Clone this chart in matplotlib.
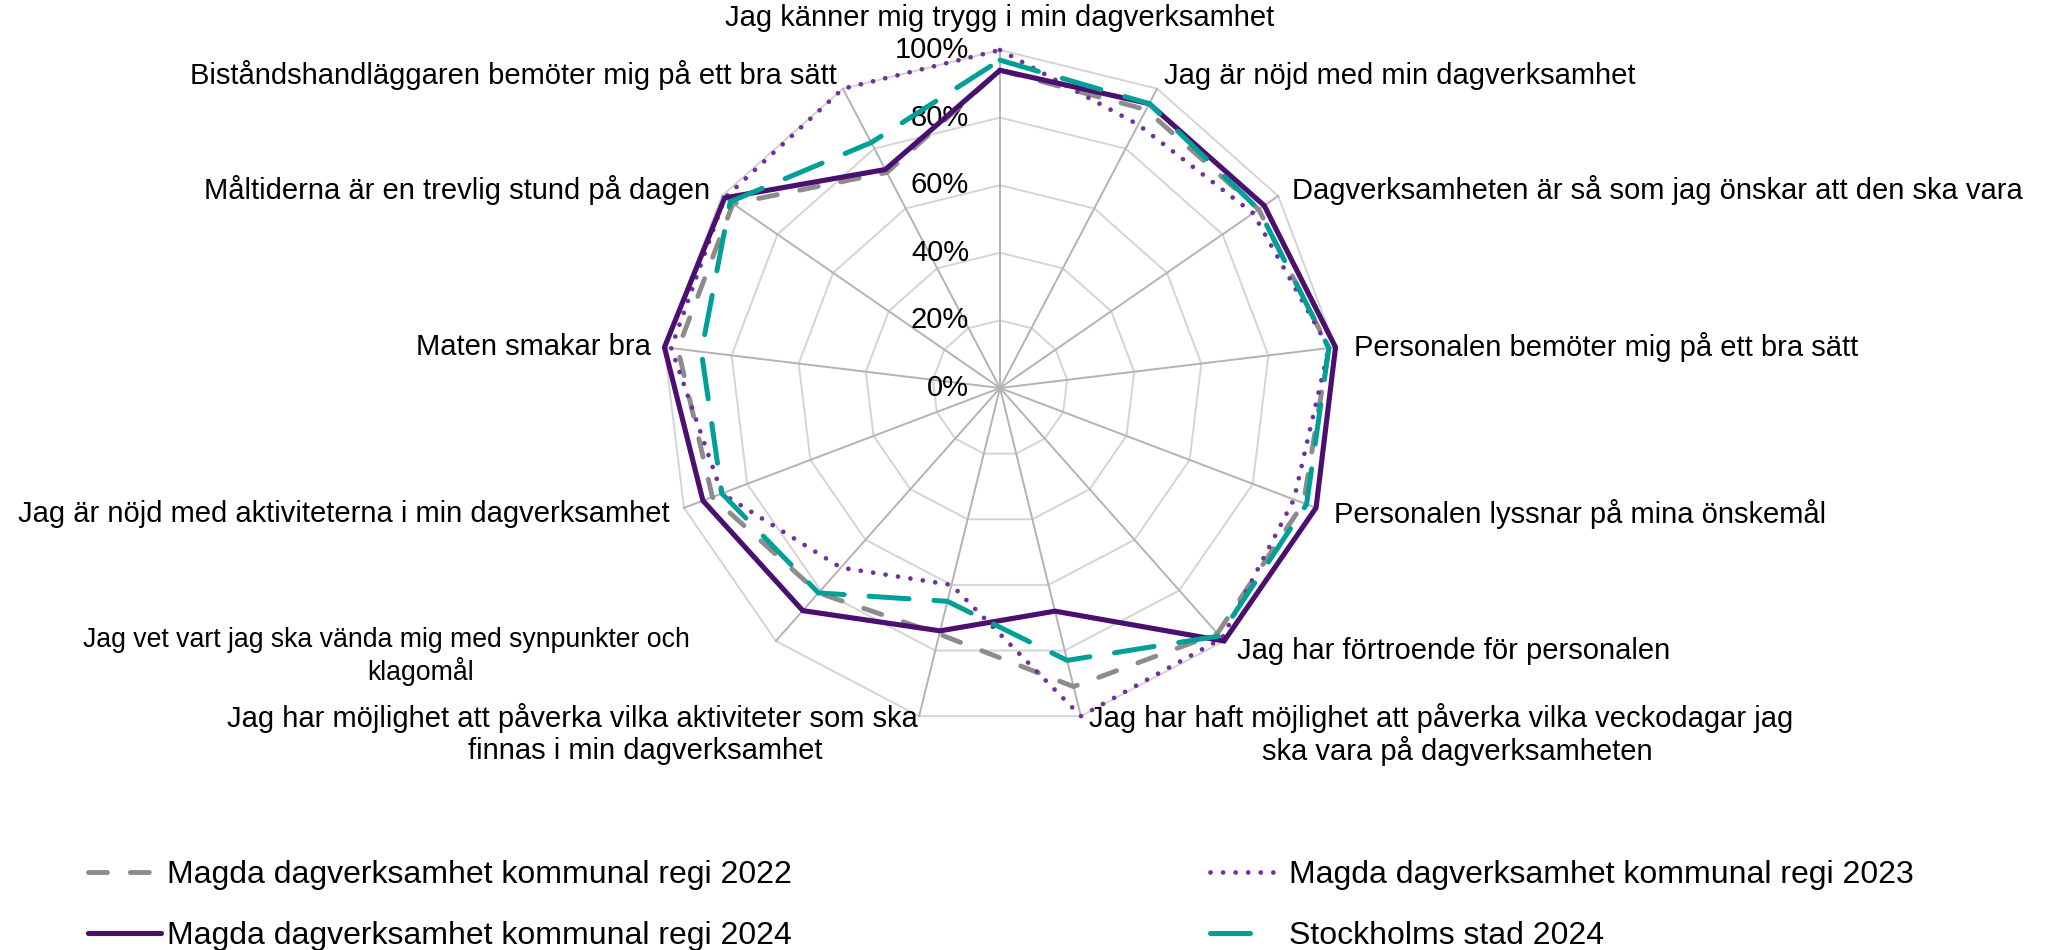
import numpy as np
import matplotlib
matplotlib.use("Agg")
import matplotlib.pyplot as plt
from matplotlib.lines import Line2D

# ---------------- data ----------------
categories = [
    "Jag känner mig trygg i min dagverksamhet",
    "Jag är nöjd med min dagverksamhet",
    "Dagverksamheten är så som jag önskar att den ska vara",
    "Personalen bemöter mig på ett bra sätt",
    "Personalen lyssnar på mina önskemål",
    "Jag har förtroende för personalen",
    "Jag har haft möjlighet att påverka vilka veckodagar jag\nska vara på dagverksamheten",
    "Jag har möjlighet att påverka vilka aktiviteter som ska\nfinnas i min dagverksamhet",
    "Jag vet vart jag ska vända mig med synpunkter och\nklagomål",
    "Jag är nöjd med aktiviteterna i min dagverksamhet",
    "Maten smakar bra",
    "Måltiderna är en trevlig stund på dagen",
    "Biståndshandläggaren bemöter mig på ett bra sätt",
]
series_names = [
    "Magda dagverksamhet kommunal regi 2022",
    "Magda dagverksamhet kommunal regi 2023",
    "Magda dagverksamhet kommunal regi 2024",
    "Stockholms stad 2024",
]
magda_2022 = [94, 93, 93, 98, 96, 97, 91, 75, 81, 91, 96, 96, 72]
magda_2023 = [100, 88, 91, 98, 93, 99, 100, 60, 71, 88, 98, 99, 100]
magda_2024 = [94, 95, 95, 100, 100, 100, 68, 74, 88, 94, 100, 99, 73]
stockholm_2024 = [97, 95, 93, 98, 97, 98, 83, 65, 81, 88, 89, 97, 82]
radial_ticks = [0, 20, 40, 60, 80, 100]
radial_tick_labels = ["0%", "20%", "40%", "60%", "80%", "100%"]

# ---------------- style ----------------
plt.rcParams["font.family"] = ["Liberation Sans", "DejaVu Sans"]
FS = 21
FS_LEG = 23
W, H = 2051, 950
fig = plt.figure(figsize=(W / 100, H / 100), dpi=100)
cx, cy, R = 1000, 388, 338
ax = fig.add_axes([(cx - R) / W, (H - cy - R) / H, 2 * R / W, 2 * R / H],
                  projection="polar")
ax.set_theta_zero_location("N")
ax.set_theta_direction(-1)
ax.set_ylim(0, 100)
ax.axis("off")

N = len(categories)
ang = np.linspace(0, 2 * np.pi, N, endpoint=False)
ang_c = np.concatenate([ang, ang[:1]])

ring_col = "#D4D4D4"
spoke_col = "#B3B3B3"
for t in radial_ticks[1:]:
    ax.plot(ang_c, [t] * (N + 1), color=ring_col, lw=1.4, zorder=1,
            clip_on=False)
for a in ang:
    ax.plot([a, a], [0, 100], color=spoke_col, lw=1.4, zorder=1.5,
            clip_on=False)

for t, lab in zip(radial_ticks, radial_tick_labels):
    ax.annotate(lab, xy=(0, t), xytext=(-31, 0), textcoords="offset pixels",
                ha="right", va="center", fontsize=FS, color="black")

styles = [
    dict(color="#8C8C8C", lw=3.5, dashes=(3.9, 4.7), dash_capstyle="round"),
    dict(color="#7030A0", lw=3.4, dashes=(0.01, 2.65), dash_capstyle="round"),
    dict(color="#4A0F6F", lw=3.7, solid_capstyle="round", solid_joinstyle="miter"),
    dict(color="#00A096", lw=3.6, dashes=(8.0, 5.0), dash_capstyle="round"),
]
series = [magda_2022, magda_2023, magda_2024, stockholm_2024]
for k, (vals, st) in enumerate(zip(series, styles)):
    v = np.concatenate([vals, vals[:1]])
    ax.plot(ang_c, v, zorder=3 + k, clip_on=False, label=series_names[k], **st)

# legend proxies (teal shows a single long dash in the reference legend)
leg_styles = [dict(s) for s in styles]
leg_styles[3]["dashes"] = (8.0, 9.0)
proxies = [Line2D([], [], **s) for s in leg_styles]

# ---------------- category labels ----------------
def ftext(x, y, s, ha, fs=FS):
    fig.text(x / W, 1 - y / H, s, ha=ha, va="center", fontsize=fs)

ftext(1000, 18, categories[0], "center")
ftext(1164, 76, categories[1], "left")
ftext(1292, 190, categories[2], "left")
ftext(1354, 347, categories[3], "left")
ftext(1334, 514, categories[4], "left")
ftext(1237, 651, categories[5], "left")
l6 = categories[6].split("\n")
ftext(1441, 718, l6[0], "center")
ftext(1457, 751, l6[1], "center")
l7 = categories[7].split("\n")
ftext(572, 718, l7[0], "center")
ftext(645, 751, l7[1], "center")
l8 = categories[8].split("\n")
ftext(386, 640, l8[0], "center", 19.2)
ftext(421, 672, l8[1], "center", 19.2)
ftext(670, 514, categories[9], "right")
ftext(651, 347, categories[10], "right")
ftext(710, 190, categories[11], "right")
ftext(837, 75, categories[12], "right")

# ---------------- legend ----------------
order = [0, 2, 1, 3]
leg = fig.legend([proxies[i] for i in order], [series_names[i] for i in order],
                 ncol=2, loc="upper left", bbox_to_anchor=(88 / W, 1 - 860 / H),
                 frameon=False, fontsize=FS_LEG, handlelength=2.3,
                 handletextpad=0.16, columnspacing=13.1, labelspacing=0.98,
                 borderpad=0, borderaxespad=0)

fig.savefig("out.png", dpi=100, facecolor="white")
